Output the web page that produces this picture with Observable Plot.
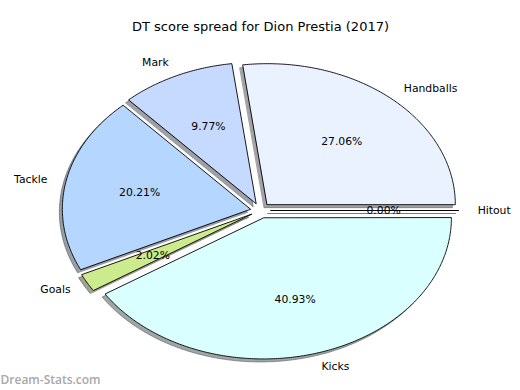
<!DOCTYPE html>
<html>
<head>
<meta charset="utf-8">
<script src="https://cdn.jsdelivr.net/npm/d3@7"></script>
<script src="https://cdn.jsdelivr.net/npm/@observablehq/plot@0.6"></script>
<style>
  html, body { margin: 0; padding: 0; background: #fff; }
</style>
</head>
<body>
<div id="chart"></div>
<script>
const title = "DT score spread for Dion Prestia (2017)";
const watermark = "Dream-Stats.com";
const labels = ["Handballs", "Mark", "Tackle", "Goals", "Kicks", "Hitout"];
const values = [27.06, 9.77, 20.21, 2.02, 40.93, 0.00];
const colors = ["#ebf2ff", "#c6d9ff", "#b5d6ff", "#cceb8c", "#d9ffff", "#ffffff"];
const explode = 0.055;

const total = d3.sum(values);
let cum = 0;
const slices = labels.map((label, i) => {
  const t1 = 2 * Math.PI * cum / total;
  cum += values[i];
  const t2 = 2 * Math.PI * cum / total;
  const mid = (t1 + t2) / 2;
  const ox = explode * Math.cos(mid), oy = explode * Math.sin(mid);
  return {label, value: values[i], color: colors[i], t1, t2, mid, ox, oy};
});

const pts = [];
for (const s of slices) {
  pts.push({label: s.label, color: s.color, x: s.ox, y: s.oy});
  const n = Math.max(2, Math.ceil((s.t2 - s.t1) / 0.01));
  for (let k = 0; k <= n; k++) {
    const t = s.t1 + (s.t2 - s.t1) * k / n;
    pts.push({label: s.label, color: s.color, x: s.ox + Math.cos(t), y: s.oy + Math.sin(t)});
  }
}
const shade = (c) => { const r = d3.rgb(c); return d3.rgb(r.r * 0.3, r.g * 0.3, r.b * 0.3).formatHex(); };

const textItems = slices.map(s => ({
  label: s.label,
  pct: s.value.toFixed(2) + "%",
  lx: s.ox + 1.1 * Math.cos(s.mid),
  ly: s.oy + 1.1 * Math.sin(s.mid),
  px: s.ox + 0.6 * Math.cos(s.mid),
  py: s.oy + 0.6 * Math.sin(s.mid),
  right: Math.cos(s.mid) > 0
}));

const chart = Plot.plot({
  width: 520,
  height: 390,
  margin: 0,
  x: {domain: [-260 / 188, 260 / 188], axis: null},
  y: {domain: [-180 / 141, 210 / 141], axis: null},
  color: {type: "identity"},
  style: {fontFamily: "'DejaVu Sans', sans-serif", background: "#fff", color: "#000"},
  marks: [
    Plot.line(pts, {x: "x", y: "y", z: "label", curve: "linear-closed",
      fill: d => shade(d.color), stroke: d => shade(d.color), fillOpacity: 0.5, strokeOpacity: 0.5,
      strokeWidth: 1, dx: -3, dy: 3}),
    Plot.line(pts, {x: "x", y: "y", z: "label", curve: "linear-closed",
      fill: "color", stroke: "#000", strokeWidth: 0.9}),
    Plot.text(textItems.filter(d => d.right), {x: "lx", y: "ly", text: "label", textAnchor: "start", fontSize: 10.8, fill: "#000"}),
    Plot.text(textItems.filter(d => !d.right), {x: "lx", y: "ly", text: "label", textAnchor: "end", fontSize: 10.8, fill: "#000"}),
    Plot.text(textItems, {x: "px", y: "py", text: "pct", textAnchor: "middle", fontSize: 10.8, fill: "#000"}),
    Plot.text([title], {frameAnchor: "top", dy: 26, fontSize: 13, fill: "#000", lineAnchor: "middle"}),
    Plot.text([watermark], {frameAnchor: "bottom-left", dx: 0, dy: -10, fontSize: 12, fontWeight: 600, fontFamily: "'Open Sans', sans-serif", fill: "#a8a8a8", textAnchor: "start", lineAnchor: "middle"})
  ]
});
document.getElementById("chart").appendChild(chart);
</script>
</body>
</html>
